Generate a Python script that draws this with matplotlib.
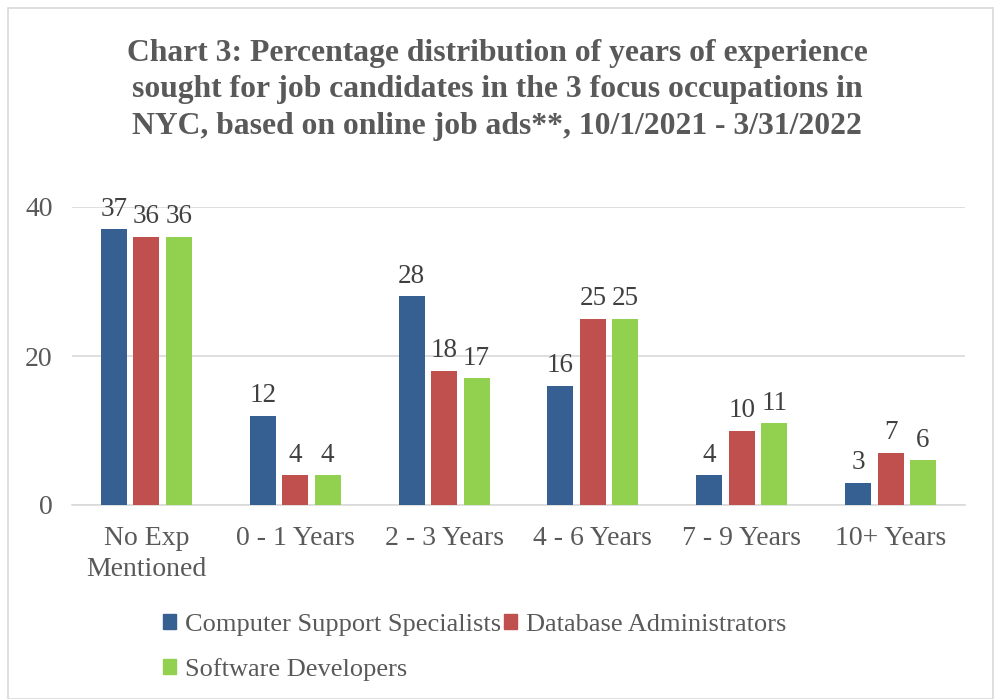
import matplotlib
matplotlib.use("Agg")
import matplotlib.pyplot as plt
import numpy as np
from matplotlib.patches import Rectangle, Patch

categories = ["No Exp\nMentioned", "0 - 1 Years", "2 - 3 Years", "4 - 6 Years", "7 - 9 Years", "10+ Years"]
series_names = ["Computer Support Specialists", "Database Administrators", "Software Developers"]
css = [37, 12, 28, 16, 4, 3]
dba = [36, 4, 18, 25, 10, 7]
sd = [36, 4, 17, 25, 11, 6]
colors = ["#376092", "#C0504D", "#92D050"]
title = ("Chart 3: Percentage distribution of years of experience\n"
         "sought for job candidates in the 3 focus occupations in\n"
         "NYC, based on online job ads**, 10/1/2021 - 3/31/2022")

plt.rcParams["font.family"] = ["Liberation Serif", "DejaVu Serif"]
txt = "#595959"

fig = plt.figure(figsize=(9.94, 6.99), dpi=100)
fig.patches.append(Rectangle((8/994, 0), 1 - 8/994 - 0.001, 1 - 8/699, transform=fig.transFigure,
                             fill=False, edgecolor="#D9D9D9", linewidth=1.2))
ax = fig.add_axes([72/994, 1 - 505/699, (965 - 72)/994, (505 - 207)/699])

x = np.arange(len(categories))
w = 0.175
off = 0.218
for i, (vals, c, name) in enumerate(zip([css, dba, sd], colors, series_names)):
    bars = ax.bar(x + (i - 1) * off, vals, width=w, color=c, label=name, zorder=3)
    for b, v in zip(bars, vals):
        ax.text(b.get_x() + b.get_width()/2, v + 1.0, str(v), ha="center", va="bottom",
                fontsize=19.5, color="#404040", clip_on=False)

ax.set_xlim(-0.5, len(categories) - 0.5)
ax.set_ylim(0, 40)
ax.set_yticks([0, 20, 40])
ax.yaxis.grid(True, color="#D9D9D9", linewidth=1.2, zorder=0)
ax.set_axisbelow(True)
for s in ["top", "right", "left"]:
    ax.spines[s].set_visible(False)
ax.spines["bottom"].set_color("#D9D9D9")
ax.spines["bottom"].set_linewidth(1.2)
ax.tick_params(axis="both", length=0, labelsize=20, labelcolor=txt)
ax.tick_params(axis="x", pad=15)
ax.tick_params(axis="y", pad=14)
ax.set_xticks(x)
ax.set_xticklabels(categories, linespacing=1.3)

fig.text(0.5, 1 - 39/699, title, ha="center", va="top", fontsize=22.8, fontweight="bold",
         color=txt, linespacing=1.33)

handles = [Patch(color=colors[0]), Patch(color=colors[2]), Patch(color=colors[1])]
labels = [series_names[0], series_names[2], series_names[1]]
fig.legend(handles, labels, ncol=2, loc="upper left", bbox_to_anchor=(152/994, 1 - 603/699),
           frameon=False, fontsize=19, labelcolor=txt, handlelength=0.5, handleheight=0.5,
           handletextpad=0.35, columnspacing=0.1, labelspacing=0.85, borderaxespad=0)

fig.savefig("out.png", dpi=100)
